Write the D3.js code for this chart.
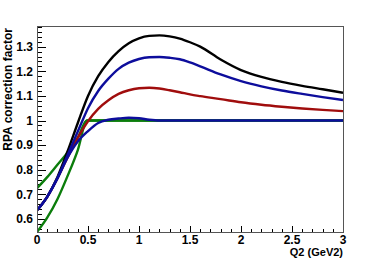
<!DOCTYPE html>
<html>
<head>
<meta charset="utf-8">
<script src="https://cdn.jsdelivr.net/npm/d3@7"></script>
<style>
  html, body { margin: 0; padding: 0; background: #fff; }
  text { font-family: "Liberation Sans", Arial, sans-serif; font-weight: bold; }
</style>
</head>
<body>
<div id="chart"></div>
<script>
// Q2 sampling points (GeV2) for the smooth curves
const q2Grid = [0, 0.1, 0.2, 0.3, 0.4, 0.5, 0.6, 0.7, 0.8, 0.9, 1.0, 1.1, 1.2, 1.3, 1.4, 1.5, 1.6, 1.8, 2.0, 2.2, 2.4, 2.6, 2.8, 3.0];
const blackVals = [0.635, 0.69, 0.77, 0.875, 0.99, 1.1, 1.18, 1.238, 1.282, 1.314, 1.334, 1.344, 1.346, 1.342, 1.333, 1.318, 1.30, 1.248, 1.205, 1.177, 1.157, 1.141, 1.127, 1.113];
const blueUpVals = [0.635, 0.69, 0.765, 0.86, 0.955, 1.05, 1.12, 1.17, 1.21, 1.235, 1.25, 1.257, 1.258, 1.255, 1.249, 1.236, 1.22, 1.187, 1.16, 1.139, 1.122, 1.108, 1.095, 1.083];
const redVals = [0.635, 0.69, 0.765, 0.85, 0.93, 0.997, 1.047, 1.082, 1.108, 1.123, 1.131, 1.133, 1.13, 1.123, 1.115, 1.106, 1.099, 1.087, 1.074, 1.064, 1.056, 1.049, 1.043, 1.038];
const blueLowVals = [0.635, 0.69, 0.765, 0.85, 0.915, 0.957, 0.99, 1.003, 1.008, 1.011, 1.009, 1.003, 1.0, 1.0, 1.0, 1.0, 1.0, 1.0, 1.0, 1.0, 1.0, 1.0, 1.0, 1.0];

// green curves have their own grid (kink at ~0.49)
const greenGrid = [0, 0.1, 0.2, 0.3, 0.4, 0.49, 1.0, 2.0, 3.0];
const greenUpVals = [0.725, 0.77, 0.82, 0.87, 0.93, 1.0, 1.0, 1.0, 1.0];
const greenLowVals = [0.547, 0.605, 0.68, 0.775, 0.88, 1.0, 1.0, 1.0, 1.0];

const xTicks = [0, 0.5, 1, 1.5, 2, 2.5, 3];
const yTicks = [0.6, 0.7, 0.8, 0.9, 1.0, 1.1, 1.2, 1.3];

const width = 382, height = 259;
const margin = { top: 26, right: 39, bottom: 27, left: 37 };

const svg = d3.select('#chart')
    .append('svg')
    .attr('width', width)
    .attr('height', height);

const x = d3.scaleLinear().domain([0, 3]).range([margin.left, width - margin.right]);
const y = d3.scaleLinear().domain([0.547, 1.384]).range([height - margin.bottom, margin.top]);

// clip for curves
svg.append('clipPath').attr('id', 'frame-clip')
    .append('rect')
    .attr('x', x(0)).attr('y', y(1.384))
    .attr('width', x(3) - x(0)).attr('height', y(0.547) - y(1.384));

// minor + major ticks (ROOT style, inside the frame)
const g = svg.append('g');
const yMinor = d3.range(0.56, 1.3801, 0.02);
g.selectAll('.ymin').data(yMinor).join('line')
    .attr('x1', x(0)).attr('x2', x(0) + 5)
    .attr('y1', d => Math.round(y(d)) + 0.5).attr('y2', d => Math.round(y(d)) + 0.5)
    .attr('stroke', '#000').attr('stroke-width', 1);
g.selectAll('.ymaj').data(yTicks).join('line')
    .attr('x1', x(0)).attr('x2', x(0) + 9)
    .attr('y1', d => Math.round(y(d)) + 0.5).attr('y2', d => Math.round(y(d)) + 0.5)
    .attr('stroke', '#000').attr('stroke-width', 1);

const xMinor = d3.range(0, 3.001, 0.1);
g.selectAll('.xmin').data(xMinor).join('line')
    .attr('x1', d => Math.round(x(d)) + 0.5).attr('x2', d => Math.round(x(d)) + 0.5)
    .attr('y1', y(0.547)).attr('y2', y(0.547) - 3)
    .attr('stroke', '#000').attr('stroke-width', 1);
g.selectAll('.xmaj').data(xTicks).join('line')
    .attr('x1', d => Math.round(x(d)) + 0.5).attr('x2', d => Math.round(x(d)) + 0.5)
    .attr('y1', y(0.547)).attr('y2', y(0.547) - 6)
    .attr('stroke', '#000').attr('stroke-width', 1);

// tick labels
const fmt = d => String(+d.toFixed(1));
svg.append('g').selectAll('text').data(yTicks).join('text')
    .attr('x', x(0) - 4)
    .attr('y', d => y(d))
    .attr('dy', '0.36em')
    .attr('text-anchor', 'end')
    .attr('font-size', 12)
    .text(fmt);
svg.append('g').selectAll('text').data(xTicks).join('text')
    .attr('x', d => x(d))
    .attr('y', y(0.547) + 12)
    .attr('text-anchor', 'middle')
    .attr('font-size', 12)
    .text(fmt);

// axis titles
svg.append('text')
    .attr('text-anchor', 'end')
    .attr('transform', `translate(12, ${margin.top + 2}) rotate(-90)`)
    .attr('font-size', 12)
    .text('RPA correction factor');
svg.append('text')
    .attr('text-anchor', 'end')
    .attr('x', x(3))
    .attr('y', 256)
    .attr('font-size', 11)
    .text('Q2 (GeV2)');

// curves
const line = d3.line()
    .x(d => x(d[0]))
    .y(d => y(d[1]))
    .curve(d3.curveMonotoneX);

const series = [
    { grid: greenGrid, vals: greenUpVals, color: '#0b7d0b' },
    { grid: greenGrid, vals: greenLowVals, color: '#0b7d0b' },
    { grid: q2Grid, vals: redVals, color: '#a00d0d' },
    { grid: q2Grid, vals: blackVals, color: '#000000' },
    { grid: q2Grid, vals: blueUpVals, color: '#0d0d9c' },
    { grid: q2Grid, vals: blueLowVals, color: '#0d0d9c' }
];

svg.append('g').attr('clip-path', 'url(#frame-clip)')
    .selectAll('path').data(series).join('path')
    .attr('d', s => line(s.grid.map((q, i) => [q, s.vals[i]])))
    .attr('fill', 'none')
    .attr('stroke', s => s.color)
    .attr('stroke-width', 2.4);

// frame
svg.append('rect')
    .attr('x', x(0) + 0.5).attr('y', y(1.384) + 0.5)
    .attr('width', x(3) - x(0)).attr('height', y(0.547) - y(1.384))
    .attr('fill', 'none')
    .attr('stroke', '#555')
    .attr('stroke-width', 1);
</script>
</body>
</html>
